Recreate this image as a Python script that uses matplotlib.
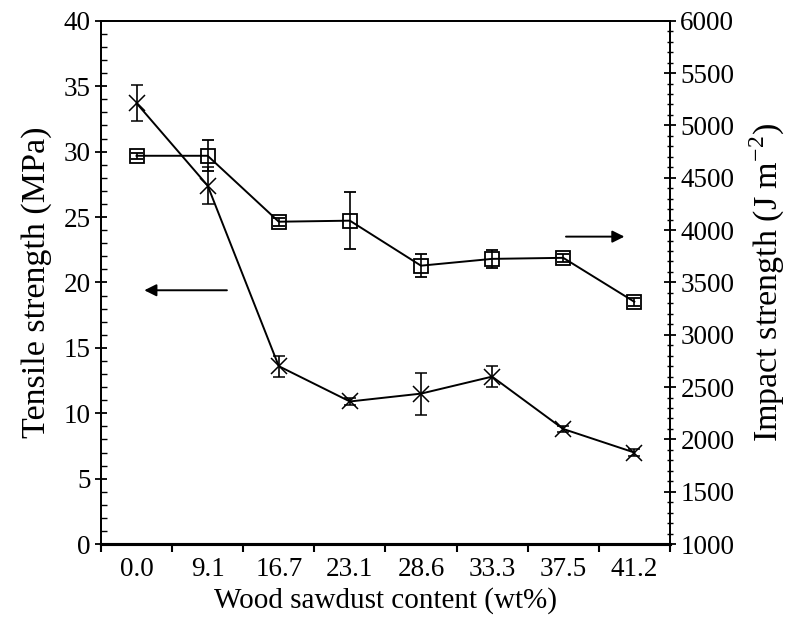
import matplotlib
matplotlib.use("Agg")
import matplotlib.pyplot as plt
from matplotlib.ticker import MultipleLocator, FixedLocator, NullFormatter

plt.rcParams['font.family'] = ['Liberation Serif', 'DejaVu Serif']

# Sawdust content categories (wt%)
content_labels = ["0.0", "9.1", "16.7", "23.1", "28.6", "33.3", "37.5", "41.2"]

# Tensile strength (MPa) and standard deviation
tensile = [33.7, 27.4, 13.6, 10.9, 11.5, 12.8, 8.8, 7.0]
tensile_err = [1.4, 1.4, 0.8, 0.3, 1.6, 0.8, 0.2, 0.3]

# Impact strength (J m^-2) and standard deviation
impact = [4710, 4710, 4080, 4090, 3660, 3725, 3735, 3315]
impact_err = [30, 150, 40, 270, 110, 85, 40, 40]

fig = plt.figure(figsize=(7.89, 6.29), dpi=100)
ax = fig.add_axes([0.128, 0.135, 0.721, 0.832])
ax2 = ax.twinx()

x = list(range(len(content_labels)))

ax.errorbar(x, tensile, yerr=tensile_err, color='black', lw=1.4,
            marker='x', markersize=12, markeredgewidth=1.1,
            capsize=4.5, elinewidth=1.2, capthick=1.2, zorder=3)
ax2.errorbar(x, impact, yerr=impact_err, color='black', lw=1.4,
             marker='s', markersize=10, markerfacecolor='none',
             markeredgewidth=1.3, capsize=4.5, elinewidth=1.2,
             capthick=1.2, zorder=3)

ax.set_xlim(-0.5, len(content_labels) - 0.5)
ax.set_ylim(0, 40)
ax2.set_ylim(1000, 6000)

tick_fs = 19.5
xlabel_fs = 21
ylabel_fs = 24.5

# x axis: tick marks between categories, labels centred on categories
ax.xaxis.set_major_locator(FixedLocator([i - 0.5 for i in range(len(content_labels) + 1)]))
ax.xaxis.set_major_formatter(NullFormatter())
ax.xaxis.set_minor_locator(FixedLocator(x))
ax.set_xticklabels(content_labels, minor=True)
ax.tick_params(axis='x', which='major', direction='out', length=6, width=1.5)
ax.tick_params(axis='x', which='minor', length=0, labelsize=tick_fs, pad=9)

ax.yaxis.set_major_locator(MultipleLocator(5))
ax.yaxis.set_minor_locator(MultipleLocator(1))
ax.tick_params(axis='y', which='major', direction='inout', length=9, width=1.3,
               labelsize=tick_fs, pad=3)
ax.tick_params(axis='y', which='minor', direction='in', length=4, width=1.0)

ax2.yaxis.set_major_locator(MultipleLocator(500))
ax2.yaxis.set_minor_locator(MultipleLocator(100))
ax2.tick_params(axis='y', which='major', direction='inout', length=9, width=1.3,
                labelsize=tick_fs, pad=3)
ax2.tick_params(axis='y', which='minor', direction='inout', length=5, width=1.0)

for a in (ax, ax2):
    for side in ('left', 'right', 'top'):
        a.spines[side].set_linewidth(1.3)
    a.spines['bottom'].set_linewidth(2.2)

ax.set_xlabel("Wood sawdust content (wt%)", fontsize=xlabel_fs, labelpad=4)
ax.set_ylabel("Tensile strength (MPa)", fontsize=ylabel_fs, labelpad=8)
ax2.set_ylabel("Impact strength (J m$^{\\mathregular{-2}}$)", fontsize=ylabel_fs,
               labelpad=10)

# Arrows pointing to the axis each series belongs to
ax.annotate("", xy=(0.07, 19.4), xytext=(1.31, 19.4),
            arrowprops=dict(arrowstyle='-|>', color='black', lw=1.4,
                            mutation_scale=18))
ax.annotate("", xy=(6.9, 23.5), xytext=(6.0, 23.5),
            arrowprops=dict(arrowstyle='-|>', color='black', lw=1.4,
                            mutation_scale=18))

fig.savefig("out.png", dpi=100)
